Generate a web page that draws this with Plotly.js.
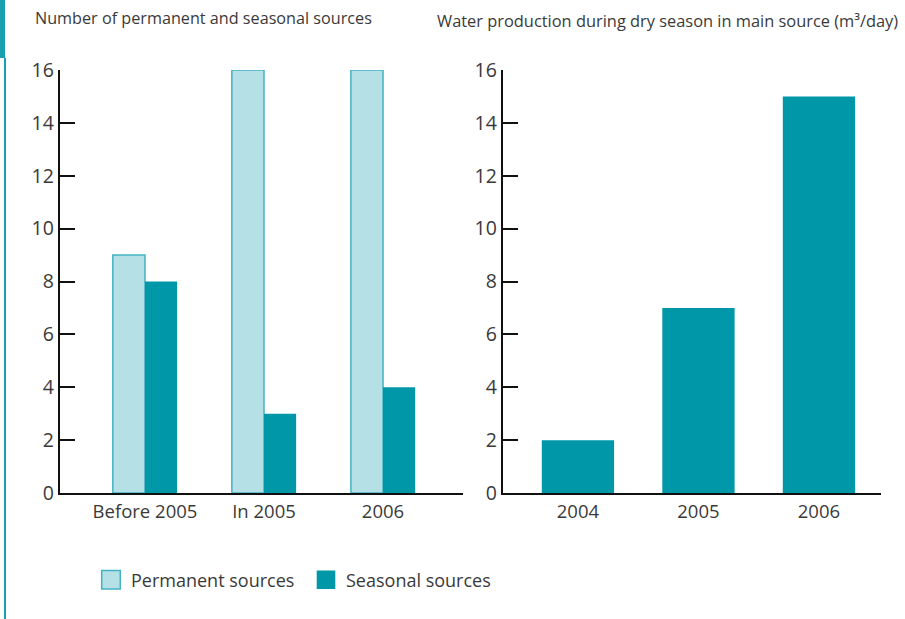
<!DOCTYPE html>
<html>
<head>
<meta charset="utf-8">
<script src="https://cdn.plot.ly/plotly-3.0.1.min.js"></script>
<style>
  html, body { margin: 0; padding: 0; background: #fff; }
  #chart { width: 905px; height: 619px; }
</style>
</head>
<body>
<div id="chart"></div>
<script>
// ---- data ----
const sourceCategories = ["Before 2005", "In 2005", "2006"];
const permanentSources = [9, 16, 16];
const seasonalSources = [8, 3, 4];
const productionYears = ["2004", "2005", "2006"];
const dryProduction = [2, 7, 15];
const yTickVals = [0, 2, 4, 6, 8, 10, 12, 14, 16];

const titleLeft = "Number of permanent and seasonal sources";
const titleRight = "Water production during dry season in main source (m³/day)";
const legendNames = ["Permanent sources", "Seasonal sources"];

// ---- styles ----
const LIGHT = "#b4e0e6";
const LIGHT_EDGE = "#45b2c2";
const DARK = "#0097a9";
const TEXT = "#3a3a3a";
const FONT = "Open Sans, Liberation Sans, sans-serif";

// pixel helpers (plot area: x 60..881, y 70..493)
const L = 60, R = 24, T = 70, B = 126;
const PW = 905 - L - R, PH = 619 - T - B;
const px = x => (x - L) / PW;
const py = y => (619 - B - y) / PH;

const barW1 = 0.27;
const traces = [
  {
    type: "bar", name: legendNames[0], x: sourceCategories, y: permanentSources,
    xaxis: "x", yaxis: "y", width: barW1, offset: -barW1,
    marker: { color: LIGHT, line: { color: LIGHT_EDGE, width: 1.5 } },
    hoverinfo: "x+y"
  },
  {
    type: "bar", name: legendNames[1], x: sourceCategories, y: seasonalSources,
    xaxis: "x", yaxis: "y", width: barW1, offset: 0,
    marker: { color: DARK, line: { color: DARK, width: 0 } },
    hoverinfo: "x+y"
  },
  {
    type: "bar", name: "Water production", x: productionYears, y: dryProduction,
    xaxis: "x2", yaxis: "y2", width: 0.6, showlegend: false,
    marker: { color: DARK, line: { width: 0 } },
    hoverinfo: "x+y"
  }
];

const yCommon = {
  range: [0, 16], tickvals: yTickVals, ticks: "inside", ticklen: 15, tickwidth: 1.5,
  tickcolor: "#111", showline: true, linecolor: "#111", linewidth: 1.5,
  showgrid: false, zeroline: false, tickfont: { size: 19.5, color: TEXT, family: FONT },
  ticklabelstandoff: 2, fixedrange: true
};
const xCommon = {
  type: "category", showline: true, linecolor: "#111", linewidth: 2, ticks: "",
  showgrid: false, zeroline: false, tickfont: { size: 18.5, color: TEXT, family: FONT },
  ticklabelstandoff: 1, fixedrange: true
};

const layout = {
  width: 905, height: 619,
  margin: { l: L, r: R, t: T, b: B, pad: 0 },
  paper_bgcolor: "#fff", plot_bgcolor: "#fff",
  font: { family: FONT, color: TEXT },
  barmode: "overlay",
  xaxis: Object.assign({}, xCommon, { domain: [0, px(463)], range: [-0.714, 2.672], anchor: "y" }),
  yaxis: Object.assign({}, yCommon, { anchor: "x" }),
  xaxis2: Object.assign({}, xCommon, { domain: [px(503), 1], range: [-0.622, 2.515], anchor: "y2" }),
  yaxis2: Object.assign({}, yCommon, { anchor: "x2" }),
  showlegend: true,
  legend: {
    orientation: "h", x: px(91), y: py(580), xanchor: "left", yanchor: "middle",
    font: { size: 18, color: TEXT, family: FONT }, bgcolor: "rgba(0,0,0,0)",
    entrywidth: 170, entrywidthmode: "pixels",
    itemclick: false, itemdoubleclick: false
  },
  annotations: [
    { text: titleLeft, xref: "paper", yref: "paper", x: px(33), y: py(18),
      xanchor: "left", yanchor: "middle", showarrow: false,
      font: { size: 16.2, color: TEXT, family: FONT } },
    { text: titleRight, xref: "paper", yref: "paper", x: px(435), y: py(20),
      xanchor: "left", yanchor: "middle", showarrow: false,
      font: { size: 16.4, color: TEXT, family: FONT } }
  ],
  shapes: [
    { type: "rect", xref: "paper", yref: "paper", x0: px(0), x1: px(5), y0: py(58), y1: py(0),
      fillcolor: "#1a9fb0", line: { width: 0 }, layer: "below" },
    { type: "line", xref: "paper", yref: "paper", x0: px(5), x1: px(5), y0: py(619), y1: py(58),
      line: { color: "#1a9fb0", width: 2 }, layer: "below" }
  ]
};

Plotly.newPlot("chart", traces, layout, { displayModeBar: false }).then(gd => {
  // enlarge legend swatches to match the reference squares
  gd.querySelectorAll(".legend .legendpoints path").forEach(p => {
    p.setAttribute("transform", "translate(20,0) scale(1.55)");
    p.style.strokeWidth = "1px";
  });
  // nudge y tick labels slightly closer to their axis lines
  gd.querySelectorAll("g.ytick text, g.y2tick text").forEach(t => {
    const x = parseFloat(t.getAttribute("x") || "0");
    t.setAttribute("x", x + 1.5);
  });
});
</script>
</body>
</html>
